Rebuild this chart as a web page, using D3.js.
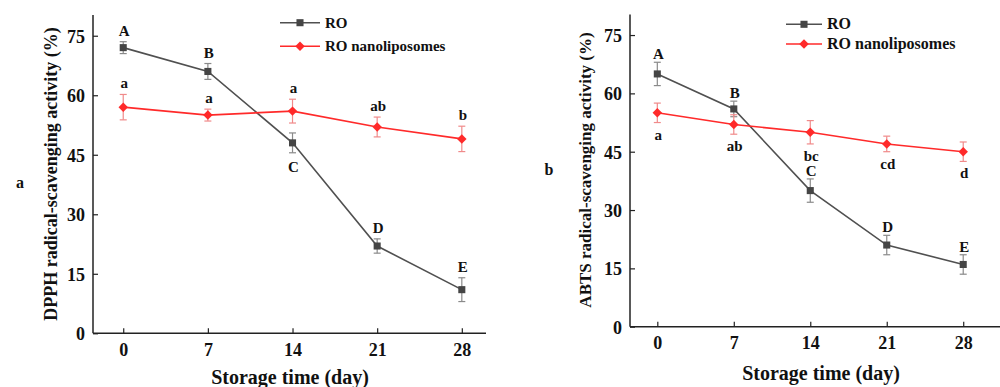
<!DOCTYPE html>
<html><head><meta charset="utf-8">
<script src="https://cdn.jsdelivr.net/npm/d3@7"></script>
<style>body{margin:0;background:#fff}svg{display:block}text{font-family:"Liberation Serif","Times New Roman",serif;font-weight:bold;fill:#111}</style>
</head><body>
<svg id="c" width="1000" height="387"></svg>
<script>
const days = [0, 7, 14, 21, 28];
const yTicks = [0, 15, 30, 45, 60, 75];
const seriesNames = ["RO", "RO nanoliposomes"];

const dpphRO = [72, 66, 48, 22, 11];
const dpphROErr = [1.5, 2, 2.5, 1.8, 3];
const dpphRONanoVals = [57, 55, 56, 52, 49];
const dpphNanoErr = [3.2, 1.5, 3, 2.5, 3.2];
const dpphROLetters = ["A", "B", "C", "D", "E"];
const dpphROLetterSide = ["above", "above", "below", "above", "above"];
const dpphNanoLetters = ["a", "a", "a", "ab", "b"];
const dpphNanoLetterSide = ["above", "above", "above", "above", "above"];

const abtsRO = [65, 56, 35, 21, 16];
const abtsROErr = [3, 2, 3, 2.5, 2.5];
const abtsNano = [55, 52, 50, 47, 45];
const abtsNanoErr = [2.5, 2.5, 3, 2, 2.5];
const abtsROLetters = ["A", "B", "C", "D", "E"];
const abtsROLetterSide = ["above", "above", "above", "above", "above"];
const abtsNanoLetters = ["a", "ab", "bc", "cd", "d"];
const abtsNanoLetterSide = ["below", "below", "below", "below", "below"];

const svg = d3.select("#c");

const panels = [
  {
    label: "a", ytitle: "DPPH radical-scavenging activity (%)",
    x0: 93, x1: 486, xAxisEnd: 486, yBottom: 333.3, yTop: 15.9, xdom: [-2.5, 30],
    ytitleX: 57, ytitleY: 174, ytitleSize: 18,
    xtitleX: 290, xtitleY: 384,
    panelLabelX: 20, panelLabelY: 188,
    legX: 280, legY: 22.7, legGap: 23.5, legLen: 40, legFont: 15,
    gapAbove: 6, gapBelow: 19,
    series: [
      {vals: dpphRO, err: dpphROErr, letters: dpphROLetters, side: dpphROLetterSide},
      {vals: dpphRONanoVals, err: dpphNanoErr, letters: dpphNanoLetters, side: dpphNanoLetterSide}
    ]
  },
  {
    label: "b", ytitle: "ABTS radical-scavenging activity (%)",
    x0: 630, x1: 996, xAxisEnd: 1000, yBottom: 326.7, yTop: 15.6, xdom: [-2.5, 31],
    ytitleX: 591, ytitleY: 170, ytitleSize: 17,
    xtitleX: 821, xtitleY: 380,
    panelLabelX: 549, panelLabelY: 175,
    legX: 786, legY: 24.3, legGap: 19.7, legLen: 36, legFont: 16,
    gapAbove: 3, gapBelow: 17,
    series: [
      {vals: abtsRO, err: abtsROErr, letters: abtsROLetters, side: abtsROLetterSide},
      {vals: abtsNano, err: abtsNanoErr, letters: abtsNanoLetters, side: abtsNanoLetterSide}
    ]
  }
];

const styles = [
  {line: "#505050", marker: "#454545", err: "#8a8a8a", shape: d3.symbolSquare, size: 50, rot: 0},
  {line: "#ff2a2a", marker: "#ff2a2a", err: "#f08a8a", shape: d3.symbolSquare, size: 45, rot: 45}
];

panels.forEach(p => {
  const x = d3.scaleLinear().domain(p.xdom).range([p.x0, p.x1]);
  const y = d3.scaleLinear().domain([0, 80]).range([p.yBottom, p.yTop]);
  const g = svg.append("g");

  // axes
  const ya = g.append("g").attr("transform", `translate(${p.x0},0)`)
    .call(d3.axisLeft(y).tickValues(yTicks).tickSizeInner(-5).tickSizeOuter(0).tickPadding(8));
  ya.select(".domain").attr("stroke", "#222").attr("stroke-width", 1.5)
    .attr("d", `M0,${p.yBottom}V${p.yTop - 1}`);
  ya.selectAll(".tick line").attr("stroke", "#222").attr("stroke-width", 1.2);
  ya.selectAll(".tick text").style("font-size", "18px").style("font-family", '"Liberation Serif",serif').style("font-weight", "bold").attr("fill", "#111").attr("dy", "0.35em");

  const xa = g.append("g").attr("transform", `translate(0,${p.yBottom})`)
    .call(d3.axisBottom(x).tickValues(days).tickSizeInner(-5).tickSizeOuter(0).tickPadding(10));
  xa.select(".domain").attr("stroke", "#222").attr("stroke-width", 1.5)
    .attr("d", `M${p.x0},0H${p.xAxisEnd}`);
  xa.selectAll(".tick line").attr("stroke", "#222").attr("stroke-width", 1.2);
  xa.selectAll(".tick text").style("font-size", "18px").style("font-family", '"Liberation Serif",serif').style("font-weight", "bold").attr("fill", "#111");

  // titles
  g.append("text").attr("transform", `translate(${p.ytitleX},${p.ytitleY}) rotate(-90)`)
    .attr("text-anchor", "middle").style("font-size", p.ytitleSize + "px").text(p.ytitle);
  g.append("text").attr("x", p.xtitleX).attr("y", p.xtitleY)
    .attr("text-anchor", "middle").style("font-size", "20px").text("Storage time (day)");
  g.append("text").attr("x", p.panelLabelX).attr("y", p.panelLabelY)
    .attr("text-anchor", "middle").style("font-size", "16px").text(p.label);

  // series
  p.series.forEach((s, si) => {
    const st = styles[si];
    const data = days.map((d, i) => ({d, v: s.vals[i], e: s.err[i], l: s.letters[i], side: s.side[i]}));
    const eg = g.append("g").attr("stroke", st.err).attr("stroke-width", 1.2);
    data.forEach(o => {
      eg.append("line").attr("x1", x(o.d)).attr("x2", x(o.d)).attr("y1", y(o.v - o.e)).attr("y2", y(o.v + o.e));
      [o.v - o.e, o.v + o.e].forEach(vv => eg.append("line")
        .attr("x1", x(o.d) - 3.5).attr("x2", x(o.d) + 3.5).attr("y1", y(vv)).attr("y2", y(vv)));
    });
    g.append("path").datum(data).attr("fill", "none").attr("stroke", st.line).attr("stroke-width", 1.6)
      .attr("d", d3.line().x(o => x(o.d)).y(o => y(o.v)));
    g.selectAll(null).data(data).enter().append("path")
      .attr("transform", o => `translate(${x(o.d)},${y(o.v)}) rotate(${st.rot})`)
      .attr("d", d3.symbol().type(st.shape).size(st.size)).attr("fill", st.marker);
    g.selectAll(null).data(data).enter().append("text")
      .attr("x", o => x(o.d) + 1)
      .attr("y", o => o.side === "above" ? y(o.v + o.e) - p.gapAbove : y(o.v - o.e) + p.gapBelow)
      .attr("text-anchor", "middle").style("font-size", "15px").text(o => o.l);
  });

  // legend
  seriesNames.forEach((n, i) => {
    const st = styles[i];
    const ly = p.legY + i * p.legGap;
    g.append("line").attr("x1", p.legX).attr("x2", p.legX + p.legLen).attr("y1", ly).attr("y2", ly)
      .attr("stroke", st.line).attr("stroke-width", 1.6);
    g.append("path").attr("transform", `translate(${p.legX + p.legLen / 2},${ly}) rotate(${st.rot})`)
      .attr("d", d3.symbol().type(st.shape).size(st.size)).attr("fill", st.marker);
    g.append("text").attr("x", p.legX + p.legLen + 5).attr("y", ly + 5)
      .style("font-size", p.legFont + "px").text(n);
  });
});
</script>
</body></html>
